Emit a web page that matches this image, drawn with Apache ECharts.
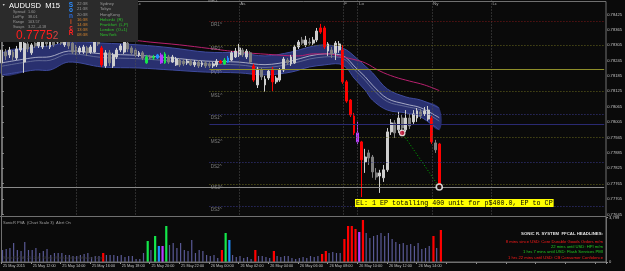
<!DOCTYPE html>
<html><head><meta charset="utf-8">
<script src="https://cdn.jsdelivr.net/npm/echarts@6/dist/echarts.min.js"></script>
<style>html,body{margin:0;padding:0;background:#0a0a0a;}#c{width:625px;height:271px;}</style>
</head><body><div id="c"></div>
<script>
// ---------- data ----------
const slotCount = 163;              // M15 slots on the time axis (incl. empty future space)
const xTickLabels = ['25 May 2015','25 May 12:00','25 May 14:00','25 May 16:00','25 May 18:00','25 May 20:00','25 May 22:00',
  '26 May 00:00','26 May 02:00','26 May 04:00','26 May 06:00','26 May 08:00','26 May 10:00','26 May 12:00','26 May 14:00'];
const priceTicksMin = 0.77645, priceTickStep = 0.0006, priceTop = 0.78481;

const opens = [0.78236,0.78278,0.78267,0.78278,0.78255,0.78286,0.78239,0.78310,0.78275,0.78313,
 0.78302,0.78298,0.78325,0.78298,0.78321,0.78317,0.78321,0.78306,0.78317,0.78313,
 0.78298,0.78278,0.78278,0.78294,0.78278,0.78278,0.78325,0.78294,0.78224,0.78275,
 0.78224,0.78259,0.78286,0.78278,0.78313,0.78294,0.78286,0.78267,0.78275,0.78236,
 0.78259,0.78255,0.78255,0.78267,0.78236,0.78259,0.78239,0.78228,0.78247,0.78243,
 0.78236,0.78243,0.78228,0.78239,0.78228,0.78236,0.78232,0.78224,0.78228,0.78243,
 0.78232,0.78239,0.78247,0.78259,0.78267,0.78286,0.78259,0.78275,0.78224,0.78150,
 0.78208,0.78150,0.78177,0.78212,0.78162,0.78169,0.78208,0.78247,0.78232,0.78236,
 0.78298,0.78325,0.78306,0.78317,0.78313,0.78325,0.78356,0.78372,0.78282,0.78286,
 0.78275,0.78286,0.78286,0.78162,0.78091,0.78029,0.77963,0.77928,0.77850,0.77885,
 0.77869,0.77807,0.77795,0.77788,0.77819,0.77967,0.78002,0.77975,0.78021,0.77975,
 0.78021,0.78006,0.78021,0.78045,0.78037,0.78017,0.78021,0.77924,0.77920];
const closes = [0.78286,0.78263,0.78286,0.78259,0.78290,0.78317,0.78313,0.78290,0.78306,0.78302,
 0.78321,0.78325,0.78310,0.78325,0.78306,0.78325,0.78313,0.78317,0.78302,0.78278,
 0.78275,0.78294,0.78298,0.78275,0.78298,0.78325,0.78310,0.78228,0.78275,0.78236,
 0.78267,0.78286,0.78302,0.78325,0.78290,0.78275,0.78267,0.78275,0.78255,0.78259,
 0.78255,0.78259,0.78267,0.78236,0.78271,0.78239,0.78259,0.78251,0.78228,0.78232,
 0.78243,0.78228,0.78239,0.78224,0.78236,0.78224,0.78224,0.78232,0.78243,0.78236,
 0.78247,0.78255,0.78275,0.78282,0.78294,0.78267,0.78282,0.78239,0.78169,0.78212,
 0.78181,0.78173,0.78204,0.78162,0.78177,0.78208,0.78251,0.78236,0.78259,0.78298,
 0.78317,0.78313,0.78325,0.78313,0.78325,0.78360,0.78372,0.78298,0.78310,0.78271,
 0.78313,0.78310,0.78162,0.78087,0.78033,0.77963,0.77928,0.77858,0.77869,0.77865,
 0.77811,0.77791,0.77807,0.77819,0.77967,0.78002,0.77963,0.78021,0.77982,0.78021,
 0.77990,0.78037,0.78049,0.78029,0.78049,0.78052,0.77928,0.77897,0.77752];
const highs = [0.78313,0.78290,0.78298,0.78286,0.78302,0.78325,0.78321,0.78321,0.78313,0.78325,
 0.78333,0.78337,0.78337,0.78333,0.78329,0.78333,0.78329,0.78325,0.78325,0.78321,
 0.78306,0.78302,0.78306,0.78302,0.78306,0.78333,0.78333,0.78302,0.78286,0.78286,
 0.78275,0.78294,0.78310,0.78333,0.78321,0.78302,0.78294,0.78282,0.78282,0.78267,
 0.78267,0.78267,0.78271,0.78275,0.78278,0.78267,0.78267,0.78259,0.78255,0.78251,
 0.78251,0.78251,0.78247,0.78247,0.78243,0.78243,0.78239,0.78239,0.78251,0.78247,
 0.78255,0.78263,0.78282,0.78294,0.78310,0.78294,0.78290,0.78282,0.78232,0.78220,
 0.78216,0.78185,0.78212,0.78220,0.78185,0.78216,0.78259,0.78255,0.78267,0.78306,
 0.78325,0.78337,0.78341,0.78333,0.78337,0.78372,0.78388,0.78380,0.78317,0.78298,
 0.78321,0.78321,0.78306,0.78169,0.78095,0.78041,0.78006,0.77932,0.77901,0.77897,
 0.77877,0.77826,0.77819,0.77838,0.77982,0.78017,0.78013,0.78045,0.78033,0.78052,
 0.78037,0.78052,0.78060,0.78056,0.78064,0.78068,0.78029,0.77936,0.77924];
const lows = [0.78220,0.78247,0.78255,0.78247,0.78247,0.78278,0.78197,0.78278,0.78267,0.78294,
 0.78294,0.78290,0.78298,0.78290,0.78298,0.78310,0.78306,0.78298,0.78290,0.78271,
 0.78267,0.78271,0.78271,0.78263,0.78271,0.78275,0.78302,0.78220,0.78216,0.78224,
 0.78216,0.78251,0.78278,0.78271,0.78278,0.78267,0.78259,0.78259,0.78247,0.78232,
 0.78251,0.78247,0.78251,0.78232,0.78232,0.78232,0.78236,0.78224,0.78220,0.78224,
 0.78228,0.78224,0.78220,0.78216,0.78220,0.78216,0.78216,0.78216,0.78220,0.78232,
 0.78228,0.78236,0.78243,0.78255,0.78259,0.78259,0.78251,0.78232,0.78162,0.78138,
 0.78169,0.78123,0.78169,0.78126,0.78154,0.78162,0.78200,0.78228,0.78224,0.78232,
 0.78290,0.78306,0.78298,0.78306,0.78306,0.78317,0.78349,0.78290,0.78263,0.78255,
 0.78247,0.78275,0.78154,0.78080,0.78025,0.77955,0.77920,0.77713,0.77807,0.77838,
 0.77788,0.77780,0.77729,0.77772,0.77811,0.77955,0.77943,0.77963,0.77955,0.77967,
 0.77978,0.77998,0.78006,0.78017,0.78029,0.78010,0.77920,0.77885,0.77745];
// PVA colour class of every bar: n normal, r red climax, g green climax, b blue rising, m magenta rising
const pvaClass = ('nnnnnnnnnnnnnnnnnnnnnnnnnnn' + 'r' + 'nnnnnnnnnnn' + 'gngbmg' + 'nnnnnnnnnnnnnn' + 'rgb' + 'nnnnnn' + 'r' +
  'nnnn' + 'r' + 'nnnnnnnnnnnn' + 'rr' + 'nnnn' + 'rrrrmr' + 'nnnnnnnnnnnnnnnnnn' + 'rnr').split('');
const volumes = [1025,1110,1196,1623,1025,940,1708,1025,1025,1196,
 769,940,1110,598,769,769,769,598,598,512,
 512,598,683,769,427,512,512,769,598,598,
 598,512,598,427,512,512,256,256,769,1793,
 1025,2220,1366,1366,3074,1452,1623,1196,1623,1025,
 940,1879,769,1025,940,598,512,598,342,1025,
 2477,1879,598,427,512,342,427,256,1025,512,
 512,427,342,940,512,427,512,512,342,256,
 342,427,342,512,427,512,683,940,769,854,
 769,769,1964,3074,3074,2818,2562,3587,2477,2050,
 2220,2306,2477,2220,2477,1964,1708,1537,1623,1452,
 1537,1366,1623,1110,1196,1366,2220,1196,2733];
const volMax = 3799;

// Sonic R dragon band (EMA34 high / low / close) and EMA89, read at selected bars
const bandBars  = [0,9,13,18,27,37,46,55,64,71,78,83,87,91,93,95,98,100,104,109,113,118];
const bandUpper = [0.78275,0.78298,0.78302,0.78317,0.78313,0.78306,0.78294,0.78278,0.78275,0.78263,0.78278,0.78298,0.78306,0.78298,0.78286,0.78263,0.78224,0.78197,0.78134,0.78103,0.78091,0.78060];
const bandLower = [0.78189,0.78208,0.78208,0.78239,0.78220,0.78216,0.78208,0.78200,0.78197,0.78189,0.78200,0.78220,0.78228,0.78232,0.78216,0.78177,0.78130,0.78091,0.78052,0.78041,0.78025,0.77975];
const bandMidA  = [0.78236,0.78257,0.78260,0.78282,0.78271,0.78265,0.78255,0.78243,0.78239,0.78229,0.78243,0.78263,0.78271,0.78268,0.78255,0.78224,0.78182,0.78149,0.78097,0.78075,0.78061,0.78022];
const bandMidB  = [0.78223,0.78244,0.78246,0.78271,0.78257,0.78252,0.78243,0.78232,0.78228,0.78218,0.78232,0.78251,0.78259,0.78258,0.78244,0.78211,0.78168,0.78134,0.78085,0.78066,0.78052,0.78009];
const emaBars   = [0,12,24,36,40,48,56,64,72,80,84,88,92,95,98,102,106,110,114,118];
const emaLine   = [0.78345,0.78337,0.78331,0.78323,0.78317,0.78306,0.78292,0.78278,0.78269,0.78263,0.78271,0.78271,0.78259,0.78249,0.78236,0.78204,0.78181,0.78165,0.78150,0.78128];

// daily pivot levels (start at the day open)
const pivotStart = '26 May 00:00';
const levelNames  = ['DR1','MR1','PVT','MS1','DS1','','MS2','DS2','MS3','DS3'];
const levelValues = [0.78400,0.78306,0.78211,0.78124,0.78037,0.77997,0.77945,0.77847,0.77764,0.77678];
const topLevelName = 'MR2';

// session open/close markers
const sessionTimes = ['25 May 15:00','25 May 19:00','26 May 02:00','26 May 09:00','26 May 10:00','26 May 15:00','26 May 19:00'];
const sessionNames = ['Ny','Lc','As','F','Lo','Ny','Lc'];

// trade markers
const tradeBars   = [108,118];
const tradePrices = [0.77963,0.77752];
const lastPrice = 0.77752;

// texts
const infoRows = [['Spread','1.60'],['LotPip','38.01'],['Range','103.57'],['Swaps','3.22, -4.18']];
const sessionClock = [['22:38','Sydney'],['21:38','Tokyo'],['20:38','HongKong'],['16:38','Helsinki  (R)'],['14:38','Frankfurt  (L,P)'],['13:38','London  (O+1)'],['08:38','NewYork']];
const headlines = [
  ['8 mins since USD: Core Durable Goods Orders m/m','#ff1a1a'],
  ['22 mins until USD: HPI m/m','#22cc22'],
  ['1 hrs 7 mins until USD: Flash Services PMI','#22cc22'],
  ['1 hrs 22 mins until USD: CB Consumer Confidence','#ff1a1a']];
const tradeNote = 'EL: 1 EP totalling 400 unit for p$400.0, EP to CP';

// ---------- build ----------
const pad = n => (n < 10 ? '0' : '') + n;
const t0 = Date.UTC(2015, 4, 25, 10, 0);
const categories = [];
for (let i = 0; i < slotCount; i++) {
  const d = new Date(t0 + i * 900000);
  categories.push(d.getUTCDate() + ' May ' + pad(d.getUTCHours()) + ':' + pad(d.getUTCMinutes()));
}
const pvaColors = { r: '#ff0000', g: '#14e64a', b: '#1e8fff', m: '#b83cff' };
const bullCol = '#cfcfcf', bearCol = '#808080';
const UI = 'Liberation Sans, Arial, sans-serif';

const candleData = opens.map((o, i) => {
  const c = pvaClass[i];
  const item = { value: [o, closes[i], lows[i], highs[i]] };
  if (c !== 'n') item.itemStyle = { color: pvaColors[c], color0: pvaColors[c], borderColor: pvaColors[c], borderColor0: pvaColors[c] };
  return item;
});
const volNormal = volumes.map((v, i) => pvaClass[i] === 'n' ? v : '-');
const volClimax = volumes.map((v, i) => pvaClass[i] !== 'n' ? { value: v, itemStyle: { color: pvaColors[pvaClass[i]] } } : '-');

const pivotIdx = categories.indexOf(pivotStart);
const levelStyle = n => {
  if (n === 'PVT') return { color: '#8e8e2a', type: 'solid' };
  if (n === '') return { color: '#2a2a72', type: 'solid' };
  if (n.startsWith('DR')) return { color: '#7e1818', type: [1, 2] };
  if (n.startsWith('DS')) return { color: '#3a3a8c', type: [1, 2] };
  return { color: '#68681e', type: [1, 2] };
};
const levelLines = levelNames.map((n, i) => [
  { coord: [pivotIdx, levelValues[i]], lineStyle: Object.assign({ width: 1 }, levelStyle(n)) },
  { coord: [slotCount - 0.5, levelValues[i]] }]);
levelLines.push([
  { coord: [-0.5, lastPrice], lineStyle: { color: '#8a8a8a', type: 'solid', width: 1 },
    label: { show: false } },
  { coord: [slotCount - 0.5, lastPrice],
    label: { show: true, position: 'end', distance: 2, formatter: lastPrice.toFixed(5), color: '#000', backgroundColor: '#c8c8c8',
      fontSize: 4.2, fontFamily: UI, padding: [1, 1, 0, 1] } }]);

const pairs = (xs, ys) => xs.map((x, i) => [x, ys[i]]);

const txt = (text, x, y, size, fill, extra) => ({ type: 'text', z: 101, style: Object.assign({ text, x, y, fontSize: size, fontFamily: UI, fill, textAlign: 'left', textVerticalAlign: 'middle' }, extra || {}) });

const graphics = [
  { type: 'rect', z: 90, shape: { x: 1.5, y: 1.5, width: 604.5, height: 260.5 }, style: { fill: null, stroke: '#707070', lineWidth: 1 } },
  { type: 'line', z: 90, shape: { x1: 0, y1: 216.5, x2: 606, y2: 216.5 }, style: { stroke: '#707070', lineWidth: 1 } },
  txt(topLevelName, 208, 1.2, 4.6, '#9a9a9a', { z: 50 }),
  { type: 'rect', z: 100, shape: { x: 0, y: 0, width: 138, height: 42 }, style: { fill: '#2b2b2b' } },
  txt('\u25BC', 2, 5, 3.5, '#d0d0d0'),
  txt('AUDUSD  M15', 9, 6, 7.6, '#ffffff'),
  { type: 'text', z: 101, style: { x: 16, y: 36, textVerticalAlign: 'middle', text: '{a|0.7775}{b|2}',
      rich: { a: { fontSize: 12, fontFamily: UI, fill: '#ff1e1e', color: '#ff1e1e' }, b: { fontSize: 10, fontFamily: UI, fill: '#d04848', color: '#d04848' } } } }
];
infoRows.forEach((r, i) => {
  graphics.push(txt(r[0], 13, 12.3 + i * 4.8, 3.8, '#9a9a9a'));
  graphics.push(txt(r[1], 28, 12.3 + i * 4.8, 3.8, '#9a9a9a'));
});
const sonicLetters = [['S', '#2a8cff'], ['o', '#2a8cff'], ['n', '#2a6ad8'], ['i', '#d05020'], ['c', '#ff3030'], ['R', '#ff2020']];
sonicLetters.forEach((l, i) => graphics.push(txt(l[0], 71, 5 + i * 5.7, 6.5, l[1], { textAlign: 'center', fontWeight: 'bold' })));
sessionClock.forEach((r, i) => {
  const hi = i >= 3;
  graphics.push(txt(r[0], 77, 4.2 + i * 5.1, 4.2, hi ? '#d8842e' : '#9a9a9a'));
  graphics.push(txt(r[1], 100, 4.2 + i * 5.1, 4.2, hi ? '#2cc22c' : '#9a9a9a'));
});
graphics.push(txt('SonicR PVA  (Chart Scale 3)  Alert On', 3, 222.5, 4, '#a0a0a0'));
graphics.push(txt('SonicR VTA: 25, 256, Show, MetaQuotes Software Corp.', 3, 258, 4, '#3a3a3a'));
graphics.push(txt('SONIC R. SYSTEM  FFCAL HEADLINES:', 603, 234.3, 4.3, '#e0e0e0', { textAlign: 'right', fontWeight: 'bold' }));
headlines.forEach((h, i) => graphics.push(txt(h[0], 603, 241.5 + i * 5.3, 4.2, h[1], { textAlign: 'right' })));
graphics.push({ type: 'text', z: 101, style: { text: tradeNote, x: 355, y: 203, textVerticalAlign: 'middle', fontSize: 6.7,
  fontFamily: 'Liberation Mono, DejaVu Sans Mono, monospace', fill: '#000000', backgroundColor: '#ffff00', padding: [1, 1, 0, 1] } });

// Dragon band drawn as a custom series through the axes' coordinate conversion
function renderBand(params, api) {
  const up = bandBars.map((b, i) => api.coord([b, bandUpper[i]]));
  const lo = bandBars.map((b, i) => api.coord([b, bandLower[i]]));
  const ma = bandBars.map((b, i) => api.coord([b, bandMidA[i]]));
  const mb = bandBars.map((b, i) => api.coord([b, bandMidB[i]]));
  const sm = 0.35;
  return { type: 'group', children: [
    { type: 'polygon', shape: { points: up.concat(lo.slice().reverse()), smooth: sm }, style: { fill: '#29306f' } },
    { type: 'polyline', shape: { points: up, smooth: sm }, style: { stroke: '#3f4b9e', lineWidth: 1, fill: null } },
    { type: 'polyline', shape: { points: lo, smooth: sm }, style: { stroke: '#3f4b9e', lineWidth: 1, fill: null } },
    { type: 'polyline', shape: { points: mb, smooth: sm }, style: { stroke: '#6f769e', lineWidth: 0.8, fill: null } },
    { type: 'polyline', shape: { points: ma, smooth: sm }, style: { stroke: '#c4c6d8', lineWidth: 0.8, fill: null } }
  ] };
}

const option = {
  backgroundColor: '#0a0a0a',
  animation: false,
  grid: [
    { left: 0, right: 19, top: 0, bottom: 56.5 },
    { left: 0, right: 19, top: 217.5, bottom: 9 }
  ],
  xAxis: [
    { type: 'category', gridIndex: 0, data: categories, boundaryGap: true, axisLine: { show: false }, axisTick: { show: false }, axisLabel: { show: false }, splitLine: { show: false } },
    { type: 'value', gridIndex: 0, min: -0.5, max: slotCount - 0.5, show: false },
    { type: 'category', gridIndex: 1, data: categories, boundaryGap: true,
      axisLine: { show: true, lineStyle: { color: '#707070' } },
      axisTick: { show: true, interval: 7, length: 2, lineStyle: { color: '#909090' } },
      axisLabel: { show: true, interval: 7, color: '#c4c4c4', fontSize: 3.8, fontFamily: UI, margin: 2, align: 'left',
        formatter: (v, idx) => xTickLabels[idx / 8] || '' },
      splitLine: { show: false } }
  ],
  yAxis: [
    { type: 'value', gridIndex: 0, position: 'right', min: priceTicksMin, max: priceTop, interval: priceTickStep,
      axisLine: { show: true, lineStyle: { color: '#707070' } },
      axisTick: { show: true, length: 2, lineStyle: { color: '#909090' } },
      axisLabel: { color: '#c4c4c4', fontSize: 4.1, fontFamily: UI, margin: 3, showMaxLabel: false,
        formatter: v => v > 0.7845 ? '' : v.toFixed(5) },
      splitLine: { show: false } },
    { type: 'value', gridIndex: 1, position: 'right', min: 0, max: volMax, interval: volMax,
      axisLine: { show: true, lineStyle: { color: '#707070' } },
      axisTick: { show: true, length: 2, lineStyle: { color: '#909090' } },
      axisLabel: { color: '#c4c4c4', fontSize: 4.1, fontFamily: UI, margin: 3 },
      splitLine: { show: false } }
  ],
  graphic: graphics,
  series: [
    { name: 'sessions', type: 'scatter', xAxisIndex: 0, yAxisIndex: 0, z: 1,
      data: sessionTimes.map(t => [t, 0.78466]), symbolSize: 0.5, itemStyle: { color: 'rgba(0,0,0,0)' },
      label: { show: true, position: 'right', distance: 1, color: '#c8c8c8', fontSize: 4.4, fontFamily: UI, formatter: p => sessionNames[p.dataIndex] },
      markLine: { silent: true, symbol: ['none', 'none'], label: { show: false },
        lineStyle: { color: '#505050', type: [1, 2], width: 1 }, data: sessionTimes.map(t => ({ xAxis: t })) } },
    { name: 'dragon', type: 'custom', xAxisIndex: 1, yAxisIndex: 0, z: 2, data: [0], renderItem: renderBand, silent: true },
    { name: 'levels', type: 'scatter', xAxisIndex: 1, yAxisIndex: 0, z: 2,
      data: levelValues.map(v => [pivotIdx, v]), symbolSize: 0.5, itemStyle: { color: 'rgba(0,0,0,0)' },
      label: { show: true, position: [1.5, 1.5], align: 'left', verticalAlign: 'top', color: '#9a9a9a', fontSize: 4.6, fontFamily: UI,
        formatter: p => levelNames[p.dataIndex] ? levelNames[p.dataIndex] + '^' : '' },
      markLine: { silent: true, symbol: ['none', 'none'], label: { show: false }, data: levelLines } },
    { name: 'ema', type: 'line', xAxisIndex: 1, yAxisIndex: 0, z: 2, smooth: 0.4, symbol: 'none',
      data: pairs(emaBars, emaLine), lineStyle: { color: '#b8206e', width: 1 } },
    { name: 'price', type: 'candlestick', xAxisIndex: 0, yAxisIndex: 0, z: 3, barWidth: 2.4,
      data: candleData,
      itemStyle: { color: bullCol, color0: bearCol, borderColor: bullCol, borderColor0: bearCol, borderWidth: 1 } },
    { name: 'trade', type: 'line', xAxisIndex: 1, yAxisIndex: 0, z: 4, symbol: 'none',
      data: pairs(tradeBars, tradePrices), lineStyle: { color: '#00b400', type: [1, 2], width: 1 } },
    { name: 'marks', type: 'scatter', xAxisIndex: 1, yAxisIndex: 0, z: 5,
      data: [
        { value: [tradeBars[0], tradePrices[0]], symbolSize: 5.5, itemStyle: { color: '#e0204a', borderColor: '#ffffff', borderWidth: 1.2 } },
        { value: [tradeBars[1], tradePrices[1]], symbolSize: 6, itemStyle: { color: '#000000', borderColor: '#ffffff', borderWidth: 1.6 } }] },
    { name: 'vol', type: 'bar', xAxisIndex: 2, yAxisIndex: 1, barWidth: 1.2, data: volNormal, itemStyle: { color: '#5a5a96' } },
    { name: 'volClimax', type: 'bar', xAxisIndex: 2, yAxisIndex: 1, barWidth: 2.2, barGap: '-100%', data: volClimax }
  ]
};
const chart = echarts.init(document.getElementById('c'), null, { renderer: 'canvas', width: 625, height: 271 });
chart.setOption(option);
</script>
</body></html>
